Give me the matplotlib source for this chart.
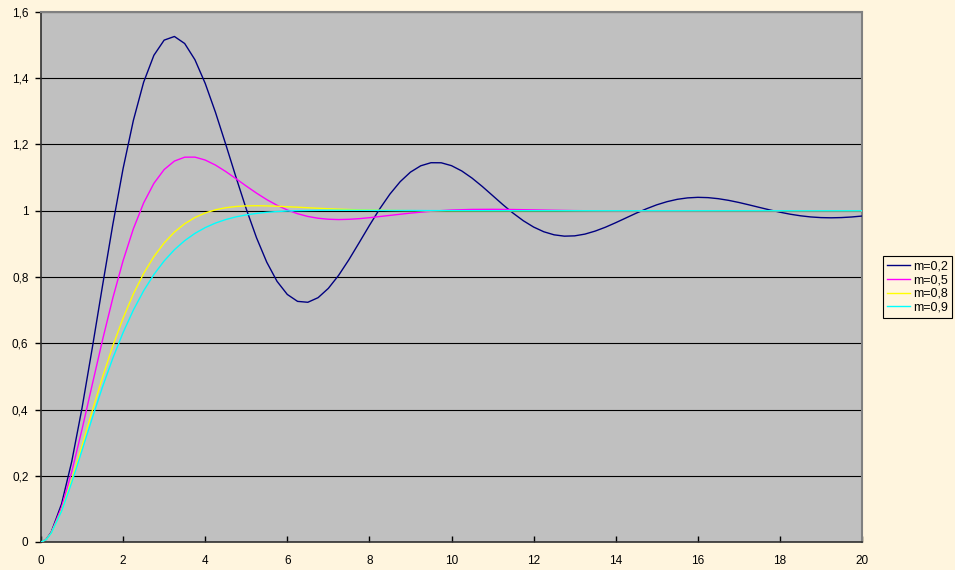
import numpy as np
from matplotlib import pyplot as plt

plt.rcParams['font.family'] = ['Liberation Sans', 'DejaVu Sans']

# time axis for the three well damped curves
t = [0, 0.125, 0.25, 0.5, 0.75, 1, 1.25, 1.5, 1.75, 2, 2.25, 2.5, 2.75, 3, 3.25, 3.5, 3.75,
     4, 4.25, 4.5, 4.75, 5, 5.25, 5.5, 5.75, 6, 6.25, 6.5, 6.75, 7, 7.25, 7.5, 7.75,
     8, 8.5, 9, 9.5, 10, 10.5, 11, 11.5, 12, 12.5, 13, 13.5, 14, 14.5, 15, 15.5,
     16, 16.5, 17, 17.5, 18, 18.5, 19, 19.5, 20]

# m=0,2 oscillates a lot, read at quarter steps all along
t02 = [0, 0.125] + [i * 0.25 for i in range(1, 81)]

m02 = [0, 0.0077, 0.0301, 0.1147, 0.2436, 0.4050, 0.5863, 0.7748, 0.9587, 1.1275, 1.2727,
       1.3880, 1.4693, 1.5151, 1.5261, 1.5049, 1.4559, 1.3845, 1.2972, 1.2006, 1.1014,
       1.0055, 0.9185, 0.8446, 0.7869, 0.7473, 0.7264, 0.7237, 0.7376, 0.7657, 0.8050,
       0.8521, 0.9035, 0.9556,
       1.0055, 1.0503, 1.0878, 1.1166, 1.1357, 1.1450, 1.1448, 1.1361, 1.1201, 1.0986,
       1.0733, 1.0460, 1.0186, 0.9928, 0.9698, 0.9508, 0.9365, 0.9273, 0.9233, 0.9242,
       0.9295, 0.9386, 0.9503, 0.9639, 0.9783, 0.9927, 1.0060, 1.0179, 1.0274, 1.0345,
       1.0388, 1.0405, 1.0396, 1.0364, 1.0314, 1.0250, 1.0177, 1.0101, 1.0026, 0.9957,
       0.9896, 0.9848, 0.9813, 0.9793, 0.9787, 0.9794, 0.9812, 0.9840]

m05 = [0, 0.0075, 0.0287, 0.1044, 0.2127, 0.3403, 0.4760, 0.6105, 0.7367, 0.8494, 0.9455,
       1.0234, 1.0827, 1.1244, 1.1500, 1.1617, 1.1619, 1.1531, 1.1379, 1.1184, 1.0968,
       1.0746, 1.0532, 1.0336, 1.0165, 1.0023, 0.9911, 0.9828, 0.9774, 0.9744, 0.9734,
       0.9742, 0.9761, 0.9790, 0.9860, 0.9929, 0.9985, 1.0022, 1.0040, 1.0043, 1.0037,
       1.0026, 1.0014, 1.0004, 0.9998, 0.9994, 0.9993, 0.9994, 0.9995, 0.9997, 0.9999,
       1.0, 1.0, 1.0, 1.0, 1.0, 1.0, 1.0]

m08 = [0, 0.0073, 0.0273, 0.0955, 0.1875, 0.2909, 0.3965, 0.4982, 0.5921, 0.6759, 0.7488,
       0.8104, 0.8615, 0.9028, 0.9356, 0.9607, 0.9796, 0.9933, 1.0029, 1.0091, 1.0129,
       1.0147, 1.0152, 1.0147, 1.0136, 1.0122, 1.0107, 1.0091, 1.0075, 1.0061, 1.0048,
       1.0038, 1.0028, 1.0021, 1.0010, 1.0003, 1.0000, 0.9998, 0.9998, 0.9998, 0.9998,
       0.9999, 0.9999, 1.0, 1.0, 1.0, 1.0, 1.0, 1.0, 1.0, 1.0,
       1.0, 1.0, 1.0, 1.0, 1.0, 1.0, 1.0]

m09 = [0, 0.0072, 0.0269, 0.0928, 0.1802, 0.2770, 0.3749, 0.4687, 0.5550, 0.6324, 0.7001,
       0.7583, 0.8075, 0.8485, 0.8823, 0.9097, 0.9317, 0.9491, 0.9628, 0.9734, 0.9815,
       0.9875, 0.9920, 0.9953, 0.9976, 0.9992, 1.0003, 1.0009, 1.0013, 1.0015, 1.0015,
       1.0015, 1.0014, 1.0012, 1.0009, 1.0007, 1.0004, 1.0003, 1.0002, 1.0001, 1.0001,
       1.0, 1.0, 1.0, 1.0, 1.0, 1.0, 1.0, 1.0, 1.0, 1.0,
       1.0, 1.0, 1.0, 1.0, 1.0, 1.0, 1.0]

labels = ['m=0,2', 'm=0,5', 'm=0,8', 'm=0,9']
colors = ['#000080', '#FF00FF', '#FFFF00', '#00FFFF']

bg = '#FFF5DE'
fig = plt.figure(figsize=(9.55, 5.7), dpi=100, facecolor=bg)
ax = fig.add_axes([41/955, 28/570, 821/955, 530/570])
ax.set_facecolor('#C0C0C0')

series = [(t02, m02), (t, m05), (t, m08), (t, m09)]
for (x, y), lab, c in zip(series, labels, colors):
    ax.plot(x, y, color=c, lw=1.0, label=lab, zorder=3)

ax.set_xlim(0, 20)
ax.set_ylim(0, 1.6)
ax.set_xticks(np.arange(0, 21, 2))
yt = np.arange(0, 1.61, 0.2)
ax.set_yticks(yt)
ax.set_yticklabels([('%g' % round(v, 1)).replace('.', ',') for v in yt])
ax.yaxis.grid(True, color='black', lw=0.8)
ax.set_axisbelow(True)

ax.tick_params(axis='x', direction='in', length=4, width=1, labelsize=8.5,
               colors='black', pad=9)
ax.tick_params(axis='y', direction='out', length=4, width=1, labelsize=8.5,
               colors='black', pad=5)
for s in ['top', 'right']:
    ax.spines[s].set_color('#808080')
    ax.spines[s].set_linewidth(1.5)
for s in ['left', 'bottom']:
    ax.spines[s].set_color('#303030')
    ax.spines[s].set_linewidth(1.2)

leg = ax.legend(loc='center', bbox_to_anchor=(917.5/955, 1 - 287/570),
                bbox_transform=fig.transFigure, fontsize=9, frameon=True,
                fancybox=False, edgecolor='black', facecolor=bg, framealpha=1,
                handlelength=1.85, handletextpad=0.25, labelspacing=0.15,
                borderpad=0.35, borderaxespad=0)
leg.get_frame().set_linewidth(0.8)

plt.savefig('out.png', dpi=100, facecolor=bg)
